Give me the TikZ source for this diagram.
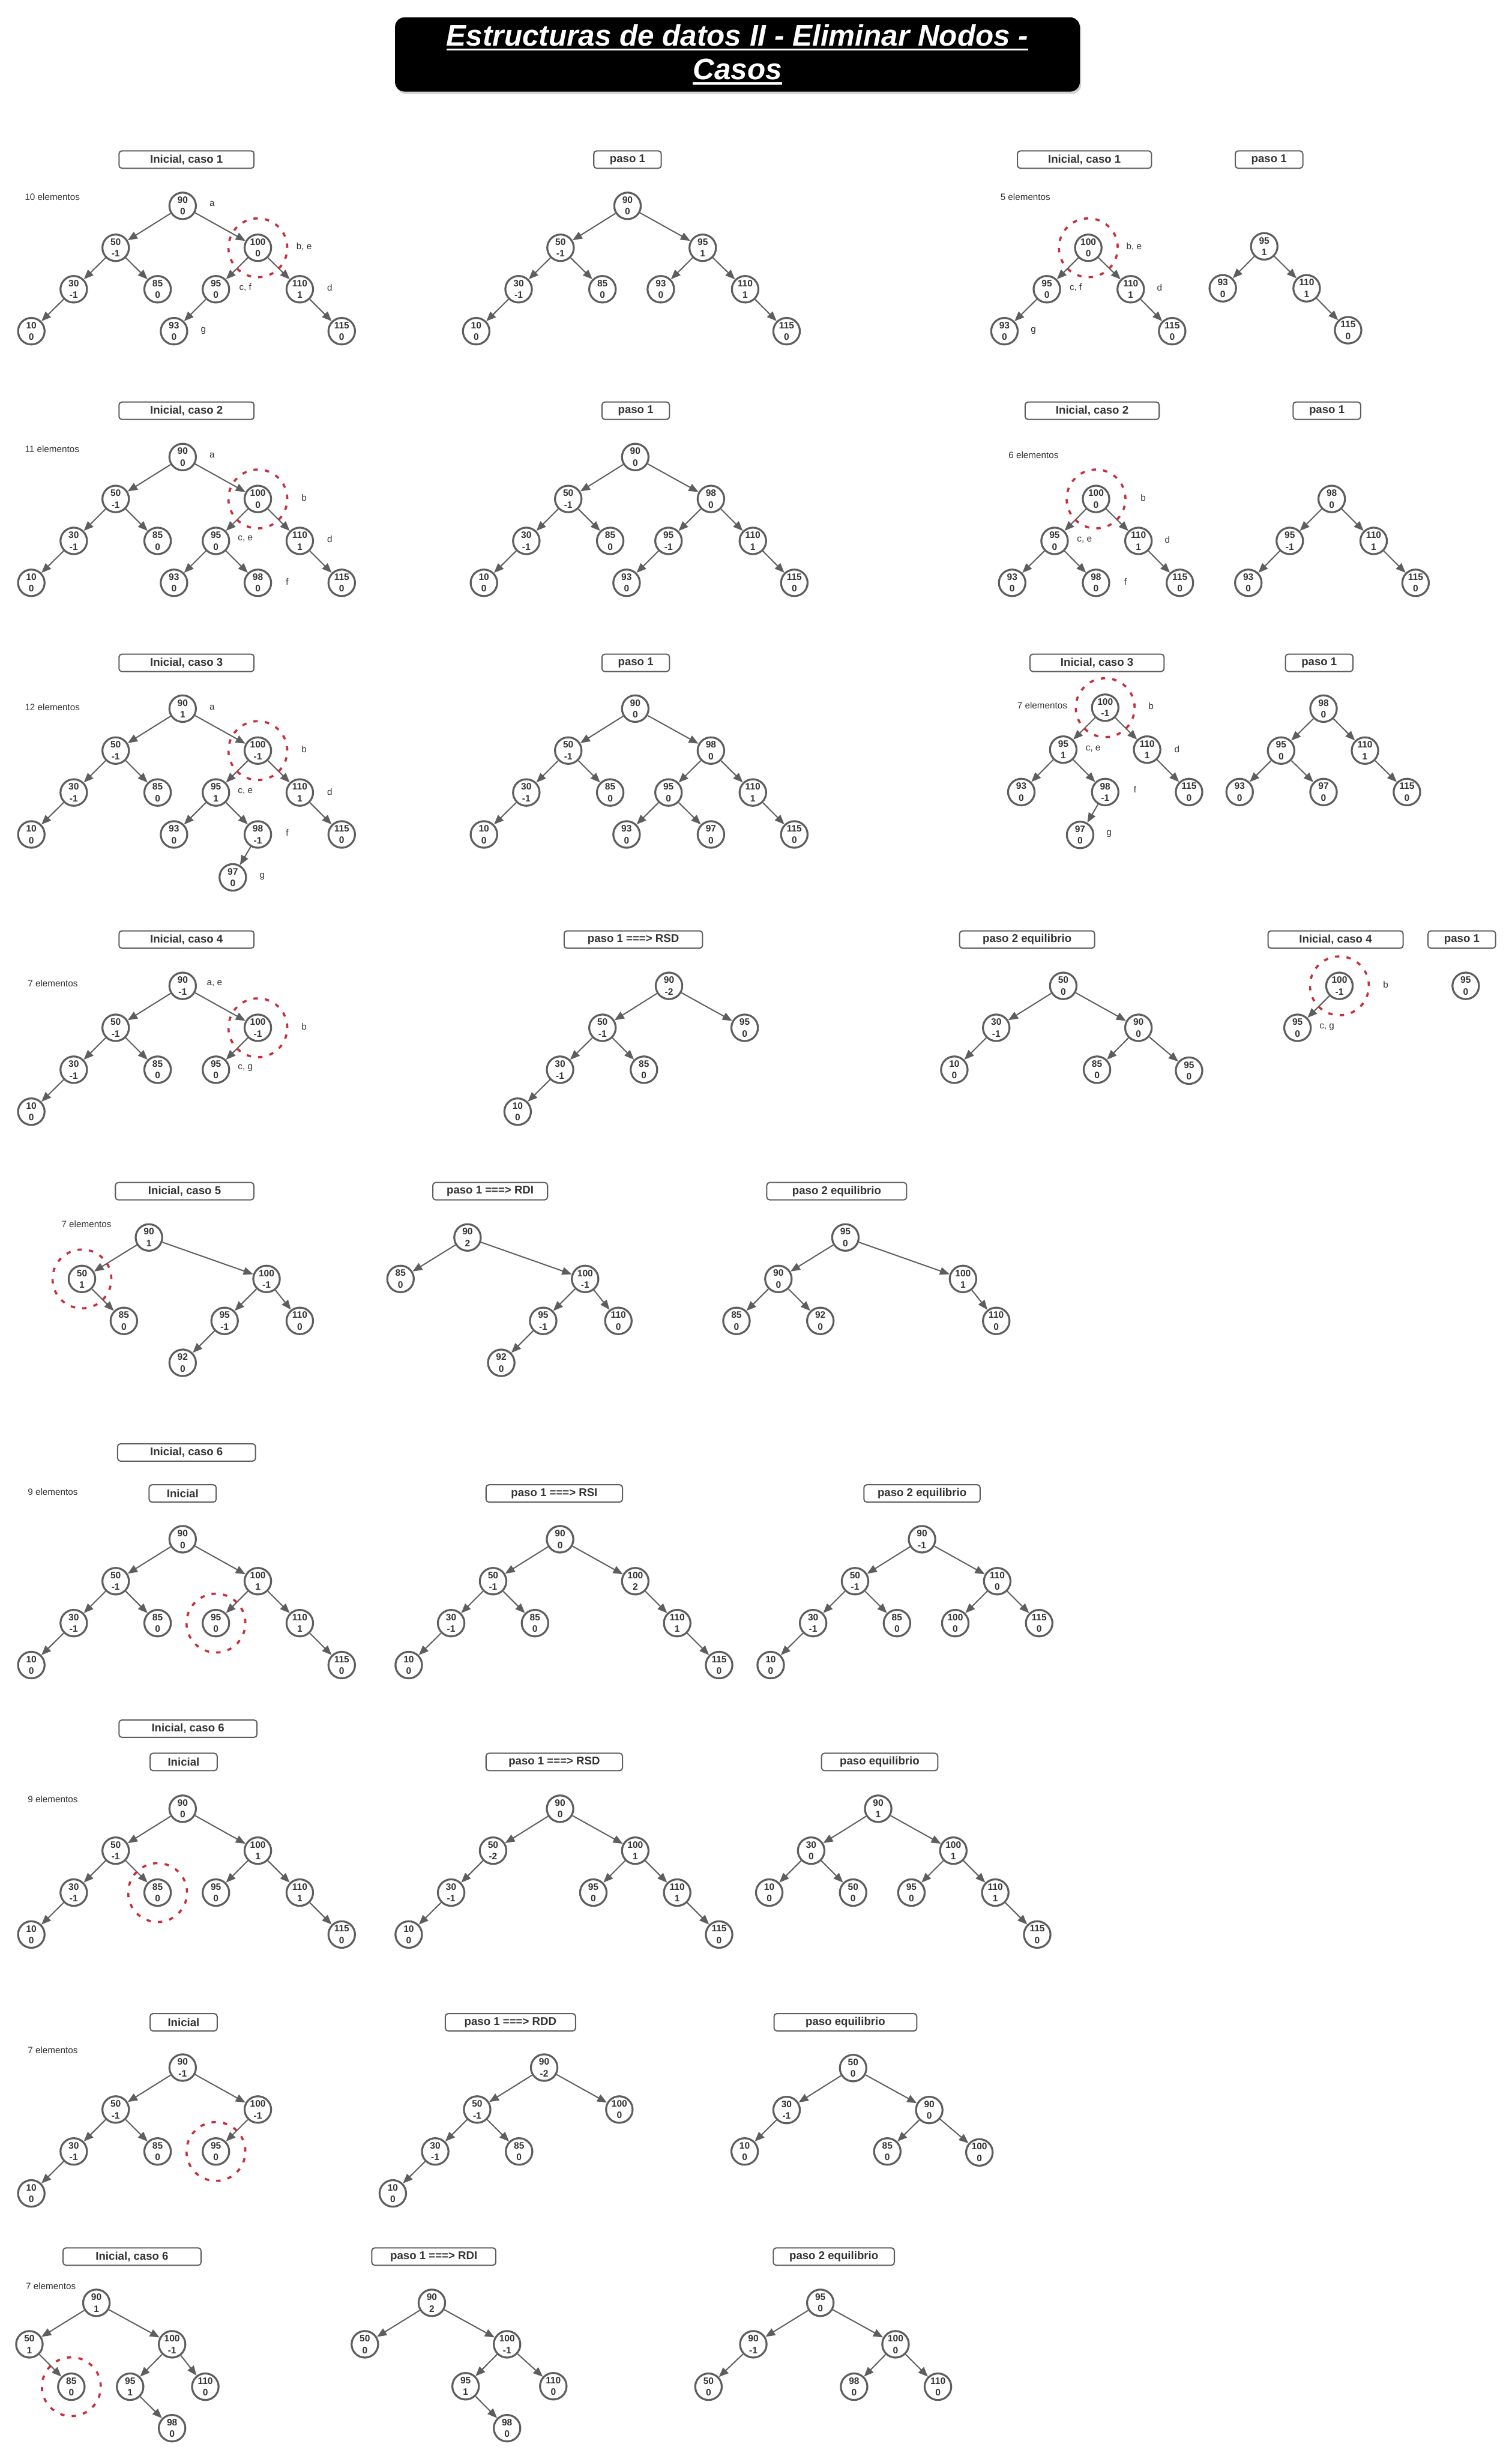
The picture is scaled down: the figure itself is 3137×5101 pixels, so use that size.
\documentclass[tikz,border=0pt]{standalone}
\usepackage{fontspec}
\setmainfont{Liberation Sans}
\usepackage{tikz}
\usetikzlibrary{arrows.meta,shadows}

\definecolor{gris}{HTML}{5E5E5E}
\definecolor{tinta}{HTML}{333333}
\definecolor{rojo}{HTML}{C92D39}

\newsavebox{\lineatit}
\newcommand{\subrayado}[1]{\sbox{\lineatit}{#1}\rlap{\usebox{\lineatit}}\rule[-2.8pt]{\wd\lineatit}{1.3pt}}

\newcommand{\fnodo}{\fontsize{5.5}{6.9}\selectfont\bfseries}
\newcommand{\fcaja}{\fontsize{6.6}{8}\selectfont\bfseries}
\newcommand{\fetiq}{\fontsize{5.4}{6.5}\selectfont}
\newcommand{\ftitulo}{\fontsize{17.5}{20}\selectfont\bfseries\itshape}

\tikzset{
  nodo/.style={circle, draw=gris, line width=0.04cm, fill=white, minimum size=0.55cm,
    inner sep=0pt, align=center, text=tinta, font=\fnodo},
  caja/.style={rounded corners=0.06cm, draw=gris, line width=0.025cm, fill=white,
    minimum height=0.36cm, inner sep=0pt, text=tinta, font=\fcaja},
  etiq/.style={text=tinta, font=\fetiq, inner sep=0pt},
  arista/.style={draw=gris, line width=0.025cm, -{Triangle[length=0.2cm,width=0.16cm]}},
  borrar/.style={draw=rojo, line width=0.045cm, dash pattern=on 0.09cm off 0.15cm},
}

\begin{document}
\begin{tikzpicture}[x=0.01cm, y=-0.01cm]
  \fill[white] (0,0) rectangle (3137,5101);
  \useasboundingbox (0,0) rectangle (3137,5101);

  % titulo
  \node[fill=black, rounded corners=0.2cm, minimum width=14.2cm, minimum height=1.54cm,
    align=center, text=white, font=\ftitulo,
    drop shadow={opacity=0.35, shadow xshift=0.03cm, shadow yshift=-0.05cm}]
    (titulo) at (1530,113) {\subrayado{Estructuras de datos II - Eliminar Nodos -}\\\subrayado{Casos}};

  % ---------------- caso 1 ----------------
  \node[caja, minimum width=2.8cm] (c1i-caja) at (387,331) {Inicial, caso 1};
  \node[etiq, anchor=west] (c1i-cant) at (51,408) {10 elementos};
  \foreach \val/\px/\py/\fe in {90/379/427/0, 50/240/514/-1, 100/535/514/0, 30/153/600/-1,
      85/327/600/0, 95/448/600/0, 110/622/600/1, 10/65/687/0, 93/361/687/0, 115/709/687/0}{
    \node[nodo] (c1i-\val) at (\px,\py) {\val\\\fe};
  }
  \foreach \pa/\hi in {90/50, 90/100, 50/30, 50/85, 30/10, 100/95, 100/110, 95/93, 110/115}{
    \draw[arista] (c1i-\pa) -- (c1i-\hi);
  }
  \draw[borrar] (c1i-100) circle[radius=0.61cm];
  \node[etiq] (c1i-a) at (440,423) {a};
  \node[etiq] (c1i-b) at (631,512) {b, e};
  \node[etiq] (c1i-c) at (509,597) {c, f};
  \node[etiq] (c1i-d) at (684,597) {d};
  \node[etiq] (c1i-g) at (422,686) {g};

  \node[caja, minimum width=1.4cm] (c1p-caja) at (1302,331) {paso 1};
  \foreach \val/\px/\py/\fe in {90/1302/427/0, 50/1163/514/-1, 95/1458/514/1, 30/1076/600/-1,
      85/1250/600/0, 93/1371/600/0, 110/1546/600/1, 10/988/687/0, 115/1632/687/0}{
    \node[nodo] (c1p-\val) at (\px,\py) {\val\\\fe};
  }
  \foreach \pa/\hi in {90/50, 90/95, 50/30, 50/85, 30/10, 95/93, 95/110, 110/115}{
    \draw[arista] (c1p-\pa) -- (c1p-\hi);
  }

  \node[caja, minimum width=2.78cm] (c1ri-caja) at (2250,331) {Inicial, caso 1};
  \node[etiq, anchor=west] (c1ri-cant) at (2075,408) {5 elementos};
  \foreach \val/\px/\py/\fe in {100/2258/514/0, 95/2172/600/0, 110/2346/600/1,
      93/2084/687/0, 115/2432/687/0}{
    \node[nodo] (c1ri-\val) at (\px,\py) {\val\\\fe};
  }
  \foreach \pa/\hi in {100/95, 100/110, 95/93, 110/115}{
    \draw[arista] (c1ri-\pa) -- (c1ri-\hi);
  }
  \draw[borrar] (c1ri-100) circle[radius=0.61cm];
  \node[etiq] (c1ri-b) at (2353,512) {b, e};
  \node[etiq] (c1ri-c) at (2232,597) {c, f};
  \node[etiq] (c1ri-d) at (2406,597) {d};
  \node[etiq] (c1ri-g) at (2144,686) {g};

  \node[caja, minimum width=1.4cm] (c1rp-caja) at (2633,331) {paso 1};
  \foreach \val/\px/\py/\fe in {95/2623/511/1, 93/2537/598/0, 110/2711/598/1, 115/2797/685/0}{
    \node[nodo] (c1rp-\val) at (\px,\py) {\val\\\fe};
  }
  \foreach \pa/\hi in {95/93, 95/110, 110/115}{
    \draw[arista] (c1rp-\pa) -- (c1rp-\hi);
  }

  % ---------------- caso 2 ----------------
  \node[caja, minimum width=2.8cm] (c2i-caja) at (387,852) {Inicial, caso 2};
  \node[etiq, anchor=west] (c2i-cant) at (51,931) {11 elementos};
  \foreach \val/\px/\py/\fe in {90/379/948/0, 50/240/1035/-1, 100/535/1035/0, 30/153/1122/-1,
      85/327/1122/0, 95/448/1122/0, 110/622/1122/1, 10/65/1209/0, 93/361/1209/0,
      98/535/1209/0, 115/709/1209/0}{
    \node[nodo] (c2i-\val) at (\px,\py) {\val\\\fe};
  }
  \foreach \pa/\hi in {90/50, 90/100, 50/30, 50/85, 30/10, 100/95, 100/110, 95/93, 95/98, 110/115}{
    \draw[arista] (c2i-\pa) -- (c2i-\hi);
  }
  \draw[borrar] (c2i-100) circle[radius=0.61cm];
  \node[etiq] (c2i-a) at (440,944) {a};
  \node[etiq] (c2i-b) at (631,1033) {b};
  \node[etiq] (c2i-c) at (509,1118) {c, e};
  \node[etiq] (c2i-d) at (684,1118) {d};
  \node[etiq] (c2i-f) at (596,1207) {f};

  \node[caja, minimum width=1.4cm] (c2p-caja) at (1319,852) {paso 1};
  \foreach \val/\px/\py/\fe in {90/1318/948/0, 50/1179/1035/-1, 98/1475/1035/0, 30/1092/1122/-1,
      85/1266/1122/0, 95/1387/1122/-1, 110/1562/1122/1, 10/1004/1209/0, 93/1300/1209/0,
      115/1648/1209/0}{
    \node[nodo] (c2p-\val) at (\px,\py) {\val\\\fe};
  }
  \foreach \pa/\hi in {90/50, 90/98, 50/30, 50/85, 30/10, 98/95, 98/110, 95/93, 110/115}{
    \draw[arista] (c2p-\pa) -- (c2p-\hi);
  }

  \node[caja, minimum width=2.78cm] (c2ri-caja) at (2266,852) {Inicial, caso 2};
  \node[etiq, anchor=west] (c2ri-cant) at (2092,944) {6 elementos};
  \foreach \val/\px/\py/\fe in {100/2274/1035/0, 95/2188/1122/0, 110/2362/1122/1,
      93/2100/1209/0, 98/2274/1209/0, 115/2448/1209/0}{
    \node[nodo] (c2ri-\val) at (\px,\py) {\val\\\fe};
  }
  \foreach \pa/\hi in {100/95, 100/110, 95/93, 95/98, 110/115}{
    \draw[arista] (c2ri-\pa) -- (c2ri-\hi);
  }
  \draw[borrar] (c2ri-100) circle[radius=0.61cm];
  \node[etiq] (c2ri-b) at (2372,1033) {b};
  \node[etiq] (c2ri-c) at (2250,1120) {c, e};
  \node[etiq] (c2ri-d) at (2422,1120) {d};
  \node[etiq] (c2ri-f) at (2335,1207) {f};

  \node[caja, minimum width=1.4cm] (c2rp-caja) at (2753,852) {paso 1};
  \foreach \val/\px/\py/\fe in {98/2763/1035/0, 95/2676/1122/-1, 110/2850/1122/1,
      93/2590/1209/0, 115/2937/1209/0}{
    \node[nodo] (c2rp-\val) at (\px,\py) {\val\\\fe};
  }
  \foreach \pa/\hi in {98/95, 98/110, 95/93, 110/115}{
    \draw[arista] (c2rp-\pa) -- (c2rp-\hi);
  }

  % ---------------- caso 3 ----------------
  \node[caja, minimum width=2.8cm] (c3i-caja) at (387,1375) {Inicial, caso 3};
  \node[etiq, anchor=west] (c3i-cant) at (51,1467) {12 elementos};
  \foreach \val/\px/\py/\fe in {90/379/1470/1, 50/240/1557/-1, 100/535/1557/-1, 30/153/1644/-1,
      85/327/1644/0, 95/448/1644/1, 110/622/1644/1, 10/65/1731/0, 93/361/1731/0,
      98/535/1731/-1, 115/709/1731/0, 97/483/1820/0}{
    \node[nodo] (c3i-\val) at (\px,\py) {\val\\\fe};
  }
  \foreach \pa/\hi in {90/50, 90/100, 50/30, 50/85, 30/10, 100/95, 100/110, 95/93, 95/98,
      110/115, 98/97}{
    \draw[arista] (c3i-\pa) -- (c3i-\hi);
  }
  \draw[borrar] (c3i-100) circle[radius=0.61cm];
  \node[etiq] (c3i-a) at (440,1467) {a};
  \node[etiq] (c3i-b) at (631,1554) {b};
  \node[etiq] (c3i-c) at (509,1642) {c, e};
  \node[etiq] (c3i-d) at (684,1643) {d};
  \node[etiq] (c3i-f) at (596,1727) {f};
  \node[etiq] (c3i-g) at (544,1818) {g};

  \node[caja, minimum width=1.4cm] (c3p-caja) at (1319,1375) {paso 1};
  \foreach \val/\px/\py/\fe in {90/1318/1470/0, 50/1179/1557/-1, 98/1475/1557/0, 30/1092/1644/-1,
      85/1266/1644/0, 95/1387/1644/0, 110/1562/1644/1, 10/1004/1731/0, 93/1300/1731/0,
      97/1475/1731/0, 115/1648/1731/0}{
    \node[nodo] (c3p-\val) at (\px,\py) {\val\\\fe};
  }
  \foreach \pa/\hi in {90/50, 90/98, 50/30, 50/85, 30/10, 98/95, 98/110, 95/93, 95/97, 110/115}{
    \draw[arista] (c3p-\pa) -- (c3p-\hi);
  }

  \node[caja, minimum width=2.78cm] (c3ri-caja) at (2276,1375) {Inicial, caso 3};
  \node[etiq, anchor=west] (c3ri-cant) at (2110,1463) {7 elementos};
  \foreach \val/\px/\py/\fe in {100/2293/1468/-1, 95/2206/1555/1, 110/2380/1555/1,
      93/2119/1643/0, 98/2293/1643/-1, 115/2467/1643/0, 97/2241/1732/0}{
    \node[nodo] (c3ri-\val) at (\px,\py) {\val\\\fe};
  }
  \foreach \pa/\hi in {100/95, 100/110, 95/93, 95/98, 110/115, 98/97}{
    \draw[arista] (c3ri-\pa) -- (c3ri-\hi);
  }
  \draw[borrar] (c3ri-100) circle[radius=0.61cm];
  \node[etiq] (c3ri-b) at (2388,1465) {b};
  \node[etiq] (c3ri-c) at (2268,1553) {c, e};
  \node[etiq] (c3ri-d) at (2442,1554) {d};
  \node[etiq] (c3ri-f) at (2355,1638) {f};
  \node[etiq] (c3ri-g) at (2301,1730) {g};

  \node[caja, minimum width=1.4cm] (c3rp-caja) at (2737,1375) {paso 1};
  \foreach \val/\px/\py/\fe in {98/2746/1470/0, 95/2658/1557/0, 110/2832/1557/1,
      93/2572/1643/0, 97/2746/1643/0, 115/2919/1643/0}{
    \node[nodo] (c3rp-\val) at (\px,\py) {\val\\\fe};
  }
  \foreach \pa/\hi in {98/95, 98/110, 95/93, 95/97, 110/115}{
    \draw[arista] (c3rp-\pa) -- (c3rp-\hi);
  }

  % ---------------- caso 4 ----------------
  \node[caja, minimum width=2.8cm] (c4i-caja) at (387,1949) {Inicial, caso 4};
  \node[etiq, anchor=west] (c4i-cant) at (57,2040) {7 elementos};
  \foreach \val/\px/\py/\fe in {90/379/2045/-1, 50/240/2132/-1, 100/535/2132/-1, 30/153/2219/-1,
      85/327/2219/0, 95/448/2219/0, 10/65/2306/0}{
    \node[nodo] (c4i-\val) at (\px,\py) {\val\\\fe};
  }
  \foreach \pa/\hi in {90/50, 90/100, 50/30, 50/85, 30/10, 100/95}{
    \draw[arista] (c4i-\pa) -- (c4i-\hi);
  }
  \draw[borrar] (c4i-100) circle[radius=0.61cm];
  \node[etiq] (c4i-a) at (445,2040) {a, e};
  \node[etiq] (c4i-b) at (631,2130) {b};
  \node[etiq] (c4i-c) at (509,2216) {c, g};

  \node[caja, minimum width=2.87cm] (c4p-caja) at (1314,1949) {paso 1 ===> RSD};
  \foreach \val/\px/\py/\fe in {90/1388/2045/-2, 50/1250/2132/-1, 95/1545/2132/0,
      30/1162/2219/-1, 85/1336/2219/0, 10/1074/2306/0}{
    \node[nodo] (c4p-\val) at (\px,\py) {\val\\\fe};
  }
  \foreach \pa/\hi in {90/50, 90/95, 50/30, 50/85, 30/10}{
    \draw[arista] (c4p-\pa) -- (c4p-\hi);
  }

  \node[caja, minimum width=2.8cm] (c4q-caja) at (2131,1949) {paso 2 equilibrio};
  \foreach \val/\px/\py/\fe in {50/2206/2045/0, 30/2067/2132/-1, 90/2362/2132/0,
      10/1980/2219/0, 85/2276/2219/0, 95/2467/2221/0}{
    \node[nodo] (c4q-\val) at (\px,\py) {\val\\\fe};
  }
  \foreach \pa/\hi in {50/30, 50/90, 30/10, 90/85, 90/95}{
    \draw[arista] (c4q-\pa) -- (c4q-\hi);
  }

  \node[caja, minimum width=2.8cm] (c4ri-caja) at (2771,1949) {Inicial, caso 4};
  \node[nodo] (c4ri-100) at (2779,2045) {100\\-1};
  \node[nodo] (c4ri-95) at (2692,2132) {95\\0};
  \draw[arista] (c4ri-100) -- (c4ri-95);
  \draw[borrar] (c4ri-100) circle[radius=0.61cm];
  \node[etiq] (c4ri-b) at (2875,2043) {b};
  \node[etiq] (c4ri-c) at (2753,2131) {c, g};

  \node[caja, minimum width=1.4cm] (c4rp-caja) at (3033,1949) {paso 1};
  \node[nodo] (c4rp-95) at (3041,2045) {95\\0};

  % ---------------- caso 5 ----------------
  \node[caja, minimum width=2.87cm] (c5i-caja) at (383,2471) {Inicial, caso 5};
  \node[etiq, anchor=west] (c5i-cant) at (127,2539) {7 elementos};
  \foreach \val/\px/\py/\fe in {90/309/2567/1, 50/170/2653/1, 100/553/2653/-1, 85/257/2740/0,
      95/466/2740/-1, 110/622/2740/0, 92/379/2827/0}{
    \node[nodo] (c5i-\val) at (\px,\py) {\val\\\fe};
  }
  \foreach \pa/\hi in {90/50, 90/100, 50/85, 100/95, 100/110, 95/92}{
    \draw[arista] (c5i-\pa) -- (c5i-\hi);
  }
  \draw[borrar] (c5i-50) circle[radius=0.61cm];

  \node[caja, minimum width=2.38cm] (c5p-caja) at (1017,2471) {paso 1 ===> RDI};
  \foreach \val/\px/\py/\fe in {90/970/2567/2, 85/831/2653/0, 100/1214/2653/-1,
      95/1127/2740/-1, 110/1283/2740/0, 92/1040/2827/0}{
    \node[nodo] (c5p-\val) at (\px,\py) {\val\\\fe};
  }
  \foreach \pa/\hi in {90/85, 90/100, 100/95, 100/110, 95/92}{
    \draw[arista] (c5p-\pa) -- (c5p-\hi);
  }

  \node[caja, minimum width=2.9cm] (c5q-caja) at (1736,2471) {paso 2 equilibrio};
  \foreach \val/\px/\py/\fe in {95/1754/2567/0, 90/1615/2653/0, 100/1998/2653/1,
      85/1528/2740/0, 92/1702/2740/0, 110/2067/2740/0}{
    \node[nodo] (c5q-\val) at (\px,\py) {\val\\\fe};
  }
  \foreach \pa/\hi in {95/90, 95/100, 90/85, 90/92, 100/110}{
    \draw[arista] (c5q-\pa) -- (c5q-\hi);
  }

  % ---------------- caso 6 (a) ----------------
  \node[caja, minimum width=2.86cm] (c6-caso) at (387,3013) {Inicial, caso 6};
  \node[caja, minimum width=1.39cm] (c6i-caja) at (379,3098) {Inicial};
  \node[etiq, anchor=west] (c6i-cant) at (57,3095) {9 elementos};
  \foreach \val/\px/\py/\fe in {90/379/3193/0, 50/240/3280/-1, 100/535/3280/1, 30/153/3367/-1,
      85/327/3367/0, 95/448/3367/0, 110/622/3367/1, 10/65/3454/0, 115/709/3454/0}{
    \node[nodo] (c6i-\val) at (\px,\py) {\val\\\fe};
  }
  \foreach \pa/\hi in {90/50, 90/100, 50/30, 50/85, 30/10, 100/95, 100/110, 110/115}{
    \draw[arista] (c6i-\pa) -- (c6i-\hi);
  }
  \draw[borrar] (c6i-95) circle[radius=0.61cm];

  \node[caja, minimum width=2.83cm] (c6p-caja) at (1150,3098) {paso 1 ===> RSI};
  \foreach \val/\px/\py/\fe in {90/1162/3193/0, 50/1023/3280/-1, 100/1318/3280/2,
      30/936/3367/-1, 85/1110/3367/0, 110/1405/3367/1, 10/848/3454/0, 115/1492/3454/0}{
    \node[nodo] (c6p-\val) at (\px,\py) {\val\\\fe};
  }
  \foreach \pa/\hi in {90/50, 90/100, 50/30, 50/85, 30/10, 100/110, 110/115}{
    \draw[arista] (c6p-\pa) -- (c6p-\hi);
  }

  \node[caja, minimum width=2.41cm] (c6q-caja) at (1913,3098) {paso 2 equilibrio};
  \foreach \val/\px/\py/\fe in {90/1913/3193/-1, 50/1774/3280/-1, 110/2069/3280/0,
      30/1687/3367/-1, 85/1861/3367/0, 100/1982/3367/0, 115/2156/3367/0, 10/1599/3454/0}{
    \node[nodo] (c6q-\val) at (\px,\py) {\val\\\fe};
  }
  \foreach \pa/\hi in {90/50, 90/110, 50/30, 50/85, 30/10, 110/100, 110/115}{
    \draw[arista] (c6q-\pa) -- (c6q-\hi);
  }

  % ---------------- caso 6 (b) ----------------
  \node[caja, minimum width=2.86cm] (c7-caso) at (390,3586) {Inicial, caso 6};
  \node[caja, minimum width=1.39cm] (c7i-caja) at (381,3655) {Inicial};
  \node[etiq, anchor=west] (c7i-cant) at (57,3732) {9 elementos};
  \foreach \val/\px/\py/\fe in {90/379/3752/0, 50/240/3839/-1, 100/535/3839/1, 30/153/3926/-1,
      85/327/3926/0, 95/448/3926/0, 110/622/3926/1, 10/65/4013/0, 115/709/4013/0}{
    \node[nodo] (c7i-\val) at (\px,\py) {\val\\\fe};
  }
  \foreach \pa/\hi in {90/50, 90/100, 50/30, 50/85, 30/10, 100/95, 100/110, 110/115}{
    \draw[arista] (c7i-\pa) -- (c7i-\hi);
  }
  \draw[borrar] (c7i-85) circle[radius=0.61cm];

  \node[caja, minimum width=2.83cm] (c7p-caja) at (1150,3655) {paso 1 ===> RSD};
  \foreach \val/\px/\py/\fe in {90/1162/3752/0, 50/1023/3839/-2, 100/1318/3839/1,
      30/936/3926/-1, 95/1231/3926/0, 110/1405/3926/1, 10/848/4013/0, 115/1492/4013/0}{
    \node[nodo] (c7p-\val) at (\px,\py) {\val\\\fe};
  }
  \foreach \pa/\hi in {90/50, 90/100, 50/30, 30/10, 100/95, 100/110, 110/115}{
    \draw[arista] (c7p-\pa) -- (c7p-\hi);
  }

  \node[caja, minimum width=2.41cm] (c7q-caja) at (1825,3655) {paso equilibrio};
  \foreach \val/\px/\py/\fe in {90/1822/3752/1, 30/1683/3839/0, 100/1978/3839/1,
      10/1596/3926/0, 50/1770/3926/0, 95/1891/3926/0, 110/2065/3926/1, 115/2152/4013/0}{
    \node[nodo] (c7q-\val) at (\px,\py) {\val\\\fe};
  }
  \foreach \pa/\hi in {90/30, 90/100, 30/10, 30/50, 100/95, 100/110, 110/115}{
    \draw[arista] (c7q-\pa) -- (c7q-\hi);
  }

  % ---------------- caso 6 (c) ----------------
  \node[caja, minimum width=1.39cm] (c8i-caja) at (381,4195) {Inicial};
  \node[etiq, anchor=west] (c8i-cant) at (57,4253) {7 elementos};
  \foreach \val/\px/\py/\fe in {90/379/4289/-1, 50/240/4376/-1, 100/535/4376/-1,
      30/153/4463/-1, 85/327/4463/0, 95/448/4463/0, 10/65/4550/0}{
    \node[nodo] (c8i-\val) at (\px,\py) {\val\\\fe};
  }
  \foreach \pa/\hi in {90/50, 90/100, 50/30, 50/85, 30/10, 100/95}{
    \draw[arista] (c8i-\pa) -- (c8i-\hi);
  }
  \draw[borrar] (c8i-95) circle[radius=0.61cm];

  \node[caja, minimum width=2.7cm] (c8p-caja) at (1059,4195) {paso 1 ===> RDD};
  \foreach \val/\px/\py/\fe in {90/1129/4289/-2, 50/990/4376/-1, 100/1285/4376/0,
      30/903/4463/-1, 85/1077/4463/0, 10/815/4550/0}{
    \node[nodo] (c8p-\val) at (\px,\py) {\val\\\fe};
  }
  \foreach \pa/\hi in {90/50, 90/100, 50/30, 50/85, 30/10}{
    \draw[arista] (c8p-\pa) -- (c8p-\hi);
  }

  \node[caja, minimum width=2.96cm] (c8q-caja) at (1754,4195) {paso equilibrio};
  \foreach \val/\px/\py/\fe in {50/1770/4290/0, 30/1632/4377/-1, 90/1928/4377/0,
      10/1545/4463/0, 85/1841/4463/0, 100/2032/4465/0}{
    \node[nodo] (c8q-\val) at (\px,\py) {\val\\\fe};
  }
  \foreach \pa/\hi in {50/30, 50/90, 30/10, 90/85, 90/100}{
    \draw[arista] (c8q-\pa) -- (c8q-\hi);
  }

  % ---------------- caso 6 (d) ----------------
  \node[caja, minimum width=2.86cm] (c9i-caja) at (274,4681) {Inicial, caso 6};
  \node[etiq, anchor=west] (c9i-cant) at (53,4742) {7 elementos};
  \foreach \val/\px/\py/\fe in {90/200/4777/1, 50/61/4863/1, 100/357/4863/-1, 85/148/4951/0,
      95/270/4951/1, 110/426/4951/0, 98/357/5037/0}{
    \node[nodo] (c9i-\val) at (\px,\py) {\val\\\fe};
  }
  \foreach \pa/\hi in {90/50, 90/100, 50/85, 100/95, 100/110, 95/98}{
    \draw[arista] (c9i-\pa) -- (c9i-\hi);
  }
  \draw[borrar] (c9i-85) circle[radius=0.61cm];

  \node[caja, minimum width=2.57cm] (c9p-caja) at (900,4681) {paso 1 ===> RDI};
  \foreach \val/\px/\py/\fe in {90/896/4777/2, 50/757/4863/0, 100/1052/4863/-1,
      95/966/4950/1, 110/1148/4950/0, 98/1052/5037/0}{
    \node[nodo] (c9p-\val) at (\px,\py) {\val\\\fe};
  }
  \foreach \pa/\hi in {90/50, 90/100, 100/95, 100/110, 95/98}{
    \draw[arista] (c9p-\pa) -- (c9p-\hi);
  }

  \node[caja, minimum width=2.51cm] (c9q-caja) at (1730,4681) {paso 2 equilibrio};
  \foreach \val/\px/\py/\fe in {95/1702/4777/0, 90/1563/4863/-1, 100/1858/4863/0,
      50/1470/4951/0, 98/1772/4951/0, 110/1946/4951/0}{
    \node[nodo] (c9q-\val) at (\px,\py) {\val\\\fe};
  }
  \foreach \pa/\hi in {95/90, 95/100, 90/50, 100/98, 100/110}{
    \draw[arista] (c9q-\pa) -- (c9q-\hi);
  }
\end{tikzpicture}
\end{document}
